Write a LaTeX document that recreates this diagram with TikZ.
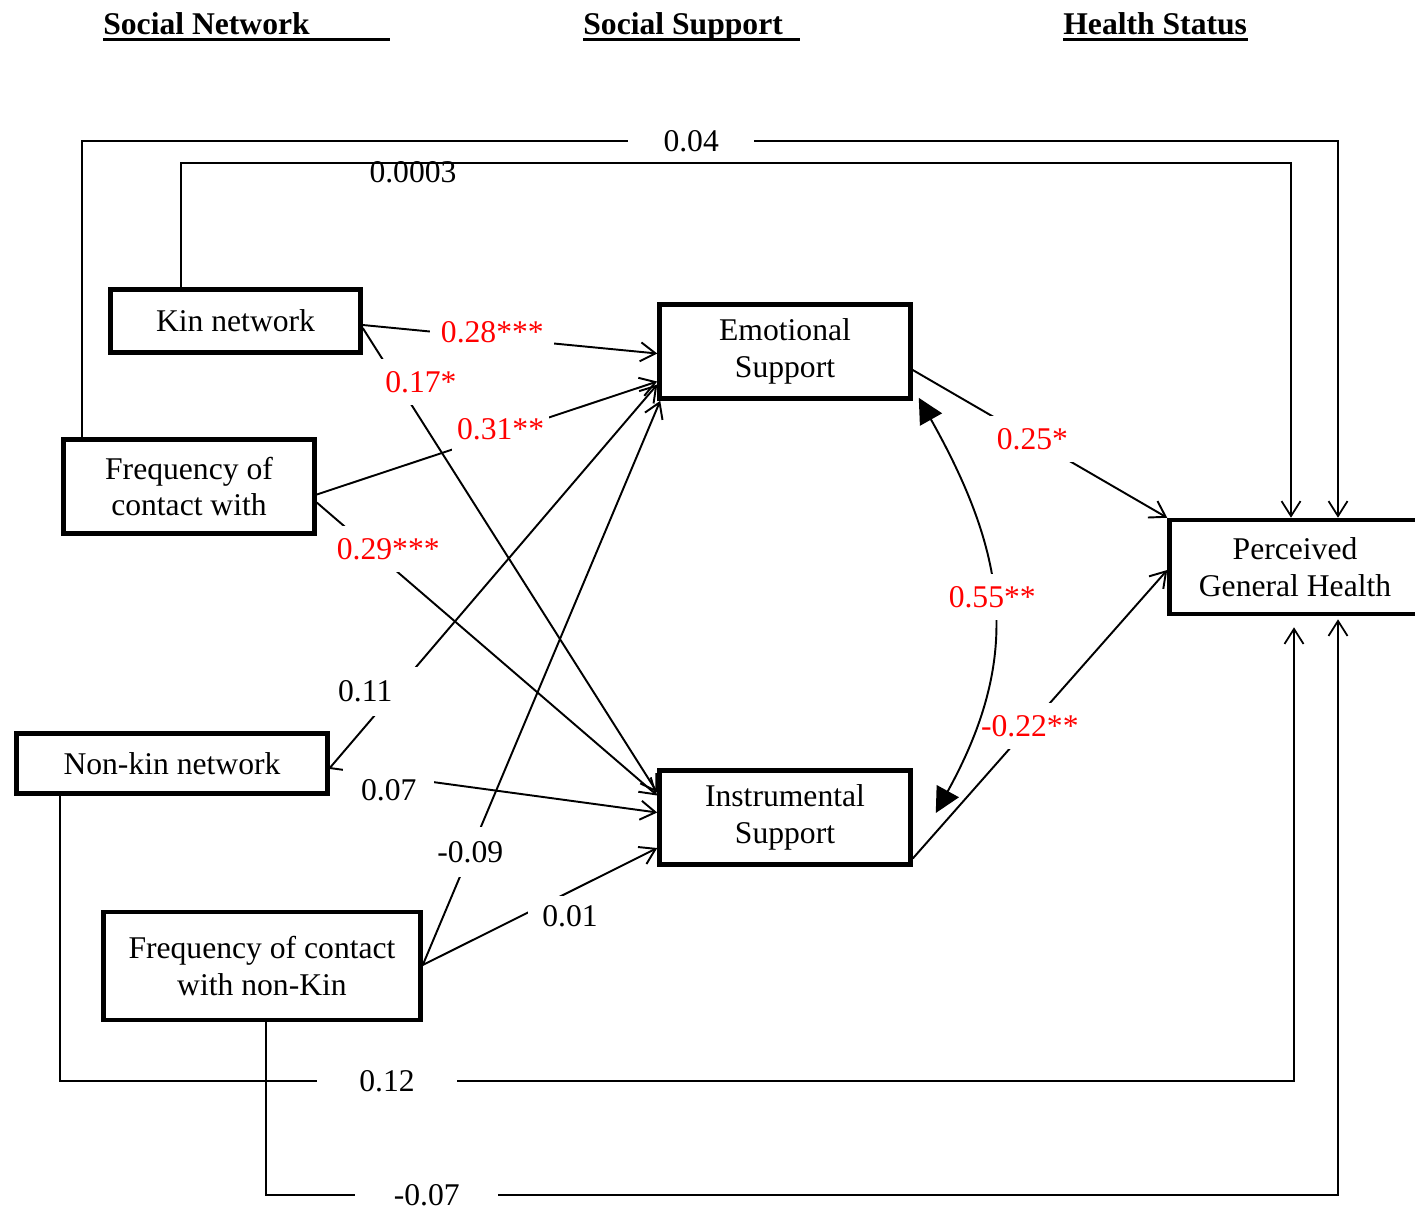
\documentclass[tikz,border=0pt]{standalone}
\usepackage{fontspec}
\setmainfont{Liberation Serif}
\usepackage{xcolor}
\usepackage{tikz}
\usetikzlibrary{calc,arrows.meta}
\definecolor{sigred}{HTML}{FF0000}
\definecolor{textmain}{HTML}{000000}

\begin{document}
\begin{tikzpicture}[
  x=0.02cm, y=-0.02cm,
  every node/.style={font=\fontsize{18}{21}\selectfont, text=textmain},
  varbox/.style={
    rectangle, draw, line width=2.6pt, inner sep=0pt,
    minimum width=5.02cm, minimum height=1.88cm, align=center,
  },
  header/.style={font=\fontsize{18}{21}\selectfont\bfseries, inner sep=0pt, anchor=base west},
  effect/.style={line width=1.1pt, -{Straight Barb[length=3mm,width=3.8mm]}},
  route/.style={line width=1pt, -{Straight Barb[length=3mm,width=3.8mm]}},
  coef/.style={fill=white, inner xsep=6pt, inner ysep=7pt},
  sig/.style={coef, text=sigred},
]
\useasboundingbox (0,0) rectangle (1415,1211);

% column headers
\node[header] (tnet) at (103,34) {Social Network};
\node[header] (tsup) at (583,34) {Social Support};
\node[header] (thlth) at (1063,34) {Health Status};
\draw[line width=1.7pt] ($(tnet.base west)+(0,5.5)$) -- ++(287,0);
\draw[line width=1.7pt] ($(tsup.base west)+(0,5.5)$) -- ++(217,0);
\draw[line width=1.7pt] ($(thlth.base west)+(0,5.5)$) -- ++(185,0);

% variables
\node[varbox, minimum width=5.0cm, minimum height=1.26cm] (kin) at (235.5,321) {Kin network};
\node[varbox] (fcw) at (189,486.5) {Frequency of\\contact with};
\node[varbox, minimum width=6.22cm, minimum height=1.2cm] (nonkin) at (172,763.5) {Non-kin network};
\node[varbox, minimum width=6.34cm, minimum height=2.16cm] (fcn) at (262,966) {Frequency of contact\\with non-Kin};
\node[varbox] (es) at (785,351.5) {Emotional\\Support};
\node[varbox] (is) at (785,817.5) {Instrumental\\Support};
\node[varbox] (pgh) at (1295,567) {Perceived\\General Health};

% network -> support
\draw[effect] ($(fcw.east)+(0,8)$) -- node[sig, pos=.54, inner xsep=3pt, yshift=0.08cm]{0.31**} ($(es.west)+(0,30)$);
\draw[effect] ($(kin.east)+(0,4)$) -- node[sig, pos=.44, yshift=0.1cm]{0.28***} ($(es.west)+(0,2)$);
\draw[effect] ($(kin.east)+(0,7)$) -- node[sig, pos=.116, xshift=0.48cm]{0.17*} ($(is.west)+(0,-25)$);
\draw[effect] ($(fcw.east)+(0,16)$) -- node[sig, pos=.21, yshift=0.3cm]{0.29***} ($(is.west)+(0,-22)$);
\draw[effect] ($(nonkin.east)+(0,4.5)$) -- node[coef, pos=.2, xshift=-0.6cm, inner xsep=18pt, inner ysep=8pt]{0.11} ($(es.west)+(0,33)$);
\draw[effect] ($(nonkin.east)+(0,4.5)$) -- node[coef, pos=.18, yshift=-0.28cm, inner xsep=10pt, inner ysep=8pt]{0.07} ($(is.west)+(0,-5)$);
\draw[effect] ($(fcn.east)+(0,-1)$) -- node[coef, pos=.2, inner ysep=8pt]{-0.09} ($(es.south west)+(3,0)$);
\draw[effect] ($(fcn.east)+(0,-1)$) -- node[coef, pos=.53, xshift=0.46cm, yshift=-0.26cm, inner xsep=8pt, inner ysep=5pt]{0.01} ($(is.west)+(0,30.5)$);

% support -> health
\draw[effect] ($(es.east)+(0,18.5)$) -- node[sig, pos=.47]{0.25*} (pgh.north west);
\draw[effect] ($(is.east)+(0,41)$) -- node[sig, pos=.46]{-0.22**} ($(pgh.west)+(0,3)$);
\draw[line width=1.1pt, {Triangle[length=5mm,width=5mm]}-{Triangle[length=5mm,width=5mm]}]
  ($(es.south east)+(6,-3)$) .. controls (1010,560) and (1020,660) .. node[sig, pos=.47]{0.55**} ($(is.east)+(23,-4.5)$);

% network -> health
\coordinate (c04a) at (82,141);
\coordinate (c04b) at (1338,141);
\draw[route] (fcw.north -| c04a) -- (c04a) -- node[coef, pos=.485, inner xsep=20pt, inner ysep=3pt]{0.04} (c04b) -- (c04b |- pgh.north);
\coordinate (c0003a) at (181,163);
\coordinate (c0003b) at (1291,163);
\draw[route] (kin.north -| c0003a) -- (c0003a) -- node[pos=.209, yshift=-0.18cm]{0.0003} (c0003b) -- (c0003b |- pgh.north);
\coordinate (c12a) at (60,1081);
\coordinate (c12b) at (1294,1081);
\draw[route] (nonkin.south -| c12a) -- (c12a) -- node[coef, pos=.265, inner xsep=24pt, inner ysep=3pt]{0.12} (c12b) -- ($(c12b |- pgh.south)+(0,11)$);
\coordinate (c07a) at (266,1195);
\coordinate (c07b) at (1338,1195);
\draw[route] (fcn.south -| c07a) -- (c07a) -- node[coef, pos=.15, inner xsep=22pt, inner ysep=1pt]{-0.07} (c07b) -- ($(c07b |- pgh.south)+(0,3)$);

\end{tikzpicture}
\end{document}
